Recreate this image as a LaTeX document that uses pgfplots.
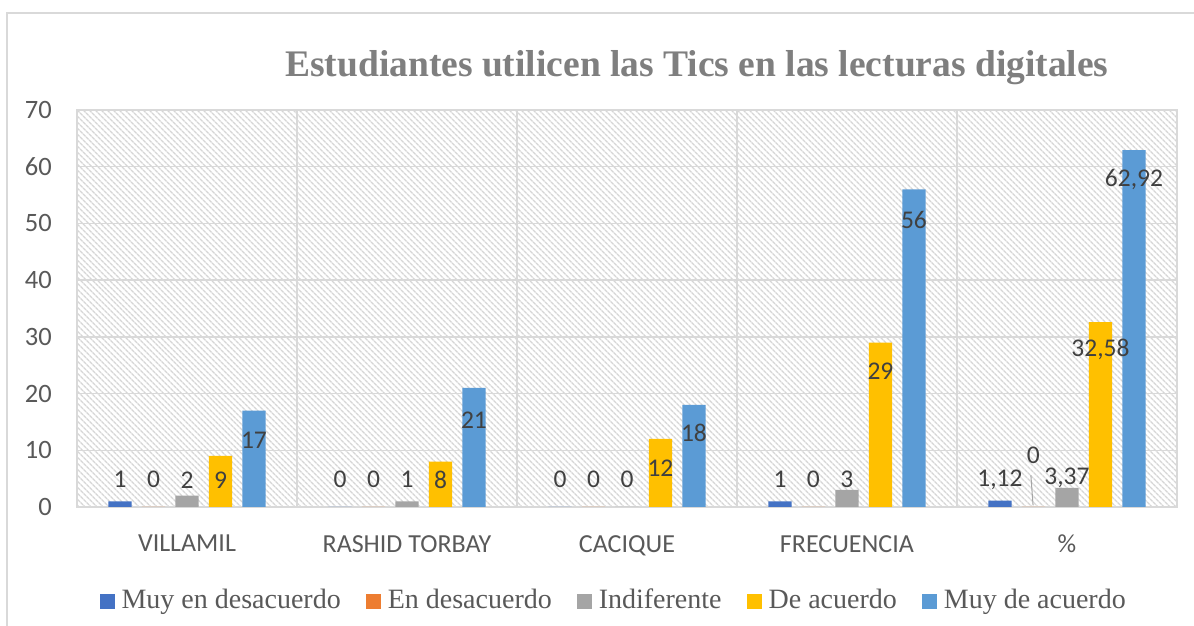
\documentclass[border=0pt]{standalone}
\usepackage{fontspec}
\setmainfont{Liberation Serif}
\newfontfamily\carlito{Carlito}
\usepackage{pgfplots}
\pgfplotsset{compat=1.18}
\usetikzlibrary{patterns.meta}
\definecolor{c1}{HTML}{4472C4}
\definecolor{c2}{HTML}{ED7D31}
\definecolor{c3}{HTML}{A5A5A5}
\definecolor{c4}{HTML}{FFC000}
\definecolor{c5}{HTML}{5B9BD5}
\definecolor{gridc}{HTML}{D9D9D9}
\definecolor{tickc}{HTML}{595959}
\definecolor{labc}{HTML}{404040}
\definecolor{titc}{HTML}{7F7F7F}
\definecolor{hatc}{HTML}{D6D6D6}
\pgfplotsset{
  legimg/.style={legend image code/.code={\fill[##1,draw=none] (0pt,0pt) rectangle (15pt,15pt);}},
  mybar/.style={ybar, draw=none, bar width=0.106, legimg}
}
\begin{document}
\begin{tikzpicture}
\useasboundingbox (0,0) rectangle (1194pt,626pt);
\fill[white] (0,0) rectangle (1194pt,626pt);
\draw[gridc, line width=1.5pt] (7pt,0pt) -- (7pt,613pt) -- (1194pt,613pt);
\begin{axis}[
  at={(77pt,119pt)}, anchor=south west,
  scale only axis, width=1100pt, height=397pt,
  xmin=-0.5, xmax=4.5, ymin=0, ymax=70,
  xtick={0,1,2,3,4},
  xticklabels={VILLAMIL,RASHID TORBAY,CACIQUE,FRECUENCIA,\%},
  ytick={0,10,...,70},
  minor xtick={-0.5,0.5,...,4.5},
  xminorgrids, ymajorgrids,
  major grid style={gridc, line width=1.5pt},
  minor grid style={gridc, line width=1.5pt},
  major tick length=0pt, minor tick length=0pt,
  axis line style={gridc, line width=1.5pt},
  axis background/.style={pattern={Lines[angle=-45,distance=4pt,line width=1.4pt]}, pattern color=hatc},
  /pgf/number format/assume math mode=true,
  xticklabel style={font=\carlito\fontsize{26}{30}\selectfont, text=tickc, anchor=north, inner sep=0pt, yshift=-28pt},
  yticklabel style={font=\carlito\fontsize{26.5}{30}\selectfont, text=tickc, anchor=east, inner sep=0pt, xshift=-25pt},
  title={Estudiantes utilicen las Tics en las lecturas digitales},
  title style={at={(axis description cs:0.5636,1.0705)}, anchor=base, font=\bfseries\fontsize{37.5}{44}\selectfont, text=titc, inner sep=0pt},
  legend columns=5,
  legend style={at={(axis description cs:0.487,-0.233)}, anchor=center, draw=none, fill=none,
    font=\fontsize{28}{34}\selectfont, text=tickc, nodes={inner xsep=0pt, anchor=base west},
    /tikz/every odd column/.append style={column sep=7pt},
    /tikz/every even column/.append style={column sep=25pt}},
]
\addplot[mybar, fill=c1, bar shift=-0.3045] coordinates {(0,1) (1,0) (2,0) (3,1) (4,1.12)};
\addplot[mybar, fill=c2, bar shift=-0.1523] coordinates {(0,0) (1,0) (2,0) (3,0) (4,0)};
\addplot[mybar, fill=c3, bar shift=0] coordinates {(0,2) (1,1) (2,0) (3,3) (4,3.37)};
\addplot[mybar, fill=c4, bar shift=0.1523] coordinates {(0,9) (1,8) (2,12) (3,29) (4,32.58)};
\addplot[mybar, fill=c5, bar shift=0.3045] coordinates {(0,17) (1,21) (2,18) (3,56) (4,62.92)};
\legend{Muy en desacuerdo, En desacuerdo, Indiferente, De acuerdo, Muy de acuerdo}
\addplot[forget plot, c3, line width=1pt] coordinates {(3.836,5.6) (3.846,0.3)};
\addplot[forget plot, draw=none, mark=none, nodes near coords, point meta=explicit symbolic,
  nodes near coords style={anchor=center, inner sep=0pt, font=\carlito\fontsize{25.5}{30}\selectfont, text=labc}]
  table[x=x, y=y, meta=l] {
x y l
-0.3045 4.8 1
-0.1523 4.8 0
0 4.8 2
0.1523 4.8 9
0.3045 11.8 17
0.6955 4.8 0
0.8477 4.8 0
1 4.8 1
1.1523 4.8 8
1.3045 15.3 21
1.6955 4.8 0
1.8477 4.8 0
2 4.8 0
2.1523 6.9 12
2.3045 13.0 18
2.6955 4.8 1
2.8477 4.8 0
3 4.8 3
3.1523 23.9 29
3.3045 50.6 56
3.6955 4.8 1,12
3.8477 9.2 0
4 5.1 3,37
4.1523 27.7 32,58
4.3045 57.7 62,92
};
\end{axis}
\end{tikzpicture}
\end{document}
